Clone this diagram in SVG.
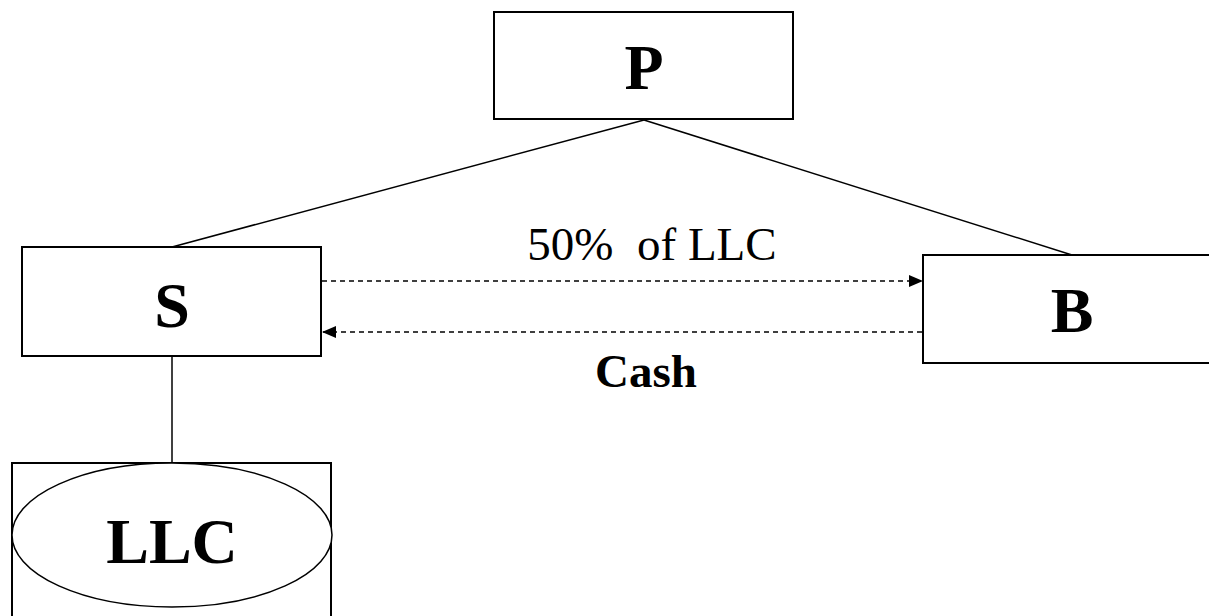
<svg xmlns="http://www.w3.org/2000/svg" width="1209" height="616" viewBox="0 0 1209 616">
<style>
.box{fill:#fff;stroke:#000;stroke-width:2}
.ln{stroke:#000;stroke-width:1.5;fill:none}
.dash{stroke:#000;stroke-width:1.5;fill:none;stroke-dasharray:5 4}
.big{font-family:"Liberation Serif",serif;font-weight:bold;font-size:64px;text-anchor:middle;fill:#000}
.lbl{font-family:"Liberation Serif",serif;font-size:47px;text-anchor:middle;fill:#000;white-space:pre}
.lblb{font-family:"Liberation Serif",serif;font-weight:bold;font-size:47px;text-anchor:middle;fill:#000}
</style>
<defs>
<marker id="ah2" viewBox="0 0 14 12" refX="14" refY="6" markerWidth="14" markerHeight="12" markerUnits="userSpaceOnUse" orient="auto">
<path d="M0,0 L14,6 L0,12 Z" fill="#000"/>
</marker>
</defs>
<g id="connectors">
<line class="ln" x1="644" y1="120" x2="172" y2="247"/>
<line class="ln" x1="644" y1="120" x2="1072" y2="255"/>
<line class="ln" x1="172" y1="356" x2="172" y2="463"/>
<line class="dash" x1="322" y1="281" x2="923" y2="281" marker-end="url(#ah2)"/>
<line class="dash" x1="922" y1="332" x2="322" y2="332" marker-end="url(#ah2)"/>
<text class="lbl" x="652" y="260" xml:space="preserve">50%  of LLC</text>
<text class="lblb" x="646" y="387">Cash</text>
</g>
<g id="P">
<rect class="box" x="494" y="12" width="299" height="107"/>
<text class="big" x="644" y="89">P</text>
</g>
<g id="S">
<rect class="box" x="22" y="247" width="299" height="109"/>
<text class="big" x="172" y="327">S</text>
</g>
<g id="B">
<rect class="box" x="923" y="255" width="300" height="108"/>
<text class="big" x="1072" y="332">B</text>
</g>
<g id="LLC">
<rect class="box" x="12" y="463" width="319" height="170"/>
<ellipse cx="172" cy="535" rx="160" ry="72" fill="#fff" stroke="#000" stroke-width="1.5"/>
<text class="big" x="172" y="563">LLC</text>
</g>
</svg>
